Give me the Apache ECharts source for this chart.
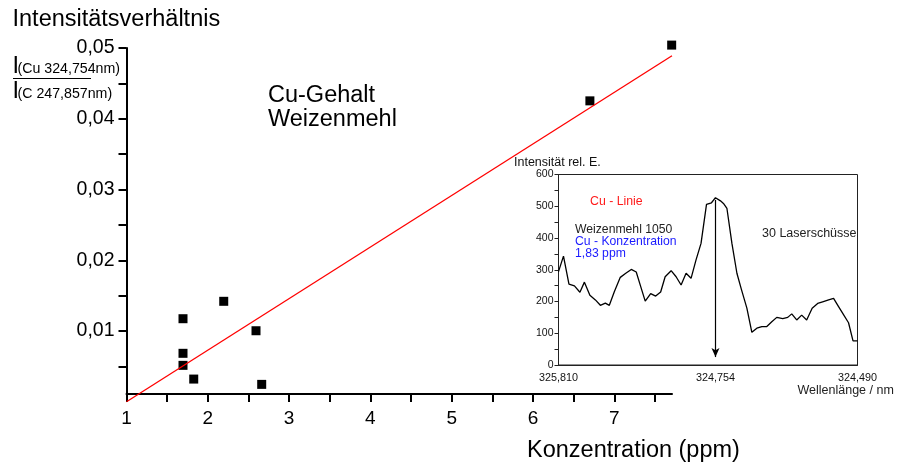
<!DOCTYPE html>
<html>
<head>
<meta charset="utf-8">
<script src="https://cdn.jsdelivr.net/npm/echarts@6/dist/echarts.min.js"></script>
<style>html,body{margin:0;padding:0;background:#fff}#c{width:898px;height:463px}</style>
</head>
<body>
<div id="c"></div>
<script>
// Main chart data
const concentration = [1.695, 1.695, 1.695, 1.827, 2.196, 2.593, 2.663, 6.70, 7.706];
const ratio = [0.01174, 0.00685, 0.00515, 0.00321, 0.0142, 0.01004, 0.00246, 0.04253, 0.05041];
const fitX = [1.0, 7.71];
const fitY = [0.0, 0.0489];
const xTickValues = [1, 1.5, 2, 2.5, 3, 3.5, 4, 4.5, 5, 5.5, 6, 6.5, 7, 7.5];
const xLabelValues = [1, 2, 3, 4, 5, 6, 7];
const yTickValues = [0.005, 0.01, 0.015, 0.02, 0.025, 0.03, 0.035, 0.04, 0.045, 0.05];
const yLabelValues = [0.01, 0.02, 0.03, 0.04, 0.05];

// Inset spectrum data (channel position, intensity)
const specChannel = [0,1,2.1,3.2,4.3,5.2,6.3,7.4,8.4,9.4,10.2,11.2,12.4,13.5,14.6,15.6,16.5,17.4,18.5,19.5,20.5,21.4,22.6,23.6,24.6,25.6,26.6,27.6,28.6,29.7,30.7,31.5,32.5,33.1,33.8,34.8,35.8,36.7,37.8,38.8,39.8,40.8,41.8,42.8,43.8,45,46,46.8,47.8,48.8,49.8,50.9,52,53,54.2,55.2,56.2,57.1,58.2,59.1,60];
const specIntensity = [294,343,255,249,229,261,220,205,188,195,188,231,276,289,301,293,247,201,225,217,230,278,297,278,252,289,273,331,383,506,511,527,517,509,493,383,289,238,179,103,116,121,121,136,150,146,150,161,142,157,142,179,194,199,205,210,184,161,133,76,76];
const waveLabelPos = [0, 31.5, 60];
const waveLabels = ['325,810', '324,754', '324,490'];
const cuLineChannel = 31.5;
const arrowFrom = 520, arrowTo = 25;

const FONT = 'Liberation Sans, Arial, sans-serif';
const chart = echarts.init(document.getElementById('c'), null, {renderer: 'canvas'});

const comma = v => String(Math.round(v * 1000) / 1000).replace('.', ',');

const option = {
  animation: false,
  backgroundColor: '#fff',
  textStyle: {fontFamily: FONT, color: '#000'},
  grid: [
    {left: 126.5, top: 48, right: 226, bottom: 69, containLabel: false, outerBoundsMode: 'none'},
    {left: 558.5, top: 174.5, width: 299, height: 190.5, containLabel: false, outerBoundsMode: 'none',
     show: true, borderColor: '#222', borderWidth: 1, backgroundColor: 'rgba(0,0,0,0)'}
  ],
  xAxis: [
    {
      type: 'value', gridIndex: 0, min: 1, max: 7.71,
      axisLine: {show: true, onZero: false, lineStyle: {color: '#000', width: 2}},
      axisTick: {show: true, inside: false, length: 8, lineStyle: {color: '#000', width: 2}, customValues: xTickValues},
      axisLabel: {show: true, customValues: xLabelValues, margin: 15, fontSize: 19, color: '#000', fontFamily: FONT,
                  formatter: v => String(v)},
      splitLine: {show: false}
    },
    {
      type: 'value', gridIndex: 1, min: 0, max: 60,
      axisLine: {show: true, onZero: false, lineStyle: {color: '#222', width: 1}},
      axisTick: {show: false},
      axisLabel: {show: true, customValues: waveLabelPos, margin: 8, fontSize: 10.8, color: '#111', fontFamily: FONT,
                  formatter: v => { const i = waveLabelPos.indexOf(v); return i >= 0 ? waveLabels[i] : ''; }},
      splitLine: {show: false}
    }
  ],
  yAxis: [
    {
      type: 'value', gridIndex: 0, min: 0.0011, max: 0.05,
      axisLine: {show: true, onZero: false, lineStyle: {color: '#000', width: 2}},
      axisTick: {show: true, inside: false, length: 8, lineStyle: {color: '#000', width: 2}, customValues: yTickValues},
      axisLabel: {show: true, customValues: yLabelValues, margin: 12, fontSize: 19.5, color: '#000', fontFamily: FONT,
                  formatter: v => comma(v)},
      splitLine: {show: false}
    },
    {
      type: 'value', gridIndex: 1, min: 0, max: 600, interval: 50,
      axisLine: {show: true, onZero: false, lineStyle: {color: '#222', width: 1}},
      axisTick: {show: true, inside: false, length: 4, lineStyle: {color: '#222', width: 1}},
      axisLabel: {show: true, margin: 5, fontSize: 10.5, color: '#111', fontFamily: FONT,
                  formatter: v => (v % 100 === 0 ? String(v) : '')},
      splitLine: {show: false}
    }
  ],
  series: [
    {
      type: 'line', xAxisIndex: 0, yAxisIndex: 0,
      data: fitX.map((x, i) => [x, fitY[i]]),
      showSymbol: false, symbol: 'none', clip: false,
      lineStyle: {color: '#ff0000', width: 1.3}, z: 3
    },
    {
      type: 'scatter', xAxisIndex: 0, yAxisIndex: 0,
      data: concentration.map((x, i) => [x, ratio[i]]),
      symbol: 'rect', symbolSize: 9, clip: false,
      itemStyle: {color: '#000', opacity: 1}, z: 2
    },
    {
      type: 'line', xAxisIndex: 1, yAxisIndex: 1,
      data: specChannel.map((x, i) => [x, specIntensity[i]]),
      showSymbol: false, symbol: 'none',
      lineStyle: {color: '#000', width: 1.3},
      markLine: {
        silent: true, symbol: ['none', 'arrow'], symbolSize: [6, 9],
        label: {show: false},
        lineStyle: {color: '#000', width: 1.2, type: 'solid'},
        data: [[{coord: [cuLineChannel, arrowFrom]}, {coord: [cuLineChannel, arrowTo]}]]
      }
    }
  ],
  graphic: [
    {type: 'text', left: 12.5, top: 7.5, style: {text: 'Intensitätsverhältnis', font: '23.5px ' + FONT, fill: '#000'}},
    {type: 'text', x: 12.5, y: 66.5, style: {text: 'I', font: '23.5px ' + FONT, fill: '#000', verticalAlign: 'middle'}},
    {type: 'text', x: 17.5, y: 69, style: {text: '(Cu 324,754nm)', font: '14.2px ' + FONT, fill: '#000', verticalAlign: 'middle'}},
    {type: 'line', shape: {x1: 13, y1: 78.5, x2: 91, y2: 78.5}, style: {stroke: '#000', lineWidth: 1.2}},
    {type: 'text', x: 12.5, y: 92, style: {text: 'I', font: '23.5px ' + FONT, fill: '#000', verticalAlign: 'middle'}},
    {type: 'text', x: 17.5, y: 94.5, style: {text: '(C 247,857nm)', font: '14.2px ' + FONT, fill: '#000', verticalAlign: 'middle'}},
    {type: 'text', x: 268, y: 95.5, style: {text: 'Cu-Gehalt', font: '23.5px ' + FONT, fill: '#000', verticalAlign: 'middle'}},
    {type: 'text', x: 268, y: 119.5, style: {text: 'Weizenmehl', font: '23.5px ' + FONT, fill: '#000', verticalAlign: 'middle'}},
    {type: 'text', x: 527, y: 451, style: {text: 'Konzentration (ppm)', font: '23.5px ' + FONT, fill: '#000', verticalAlign: 'middle'}},
    {type: 'text', x: 514, y: 162.5, style: {text: 'Intensität rel. E.', font: '12.5px ' + FONT, fill: '#111', verticalAlign: 'middle'}},
    {type: 'text', x: 590, y: 201.5, style: {text: 'Cu - Linie', font: '12.3px ' + FONT, fill: '#ff1a1a', verticalAlign: 'middle'}},
    {type: 'text', x: 575, y: 229.5, style: {text: 'Weizenmehl 1050', font: '12.2px ' + FONT, fill: '#222', verticalAlign: 'middle'}},
    {type: 'text', x: 575, y: 241.5, style: {text: 'Cu - Konzentration', font: '12.2px ' + FONT, fill: '#1a1aff', verticalAlign: 'middle'}},
    {type: 'text', x: 575, y: 253.5, style: {text: '1,83 ppm', font: '12.2px ' + FONT, fill: '#1a1aff', verticalAlign: 'middle'}},
    {type: 'text', x: 762, y: 233.5, style: {text: '30 Laserschüsse', font: '12.5px ' + FONT, fill: '#222', verticalAlign: 'middle'}},
    {type: 'text', x: 797.5, y: 390.5, style: {text: 'Wellenlänge / nm', font: '12.5px ' + FONT, fill: '#222', verticalAlign: 'middle'}}
  ]
};
chart.setOption(option);
</script>
</body>
</html>
